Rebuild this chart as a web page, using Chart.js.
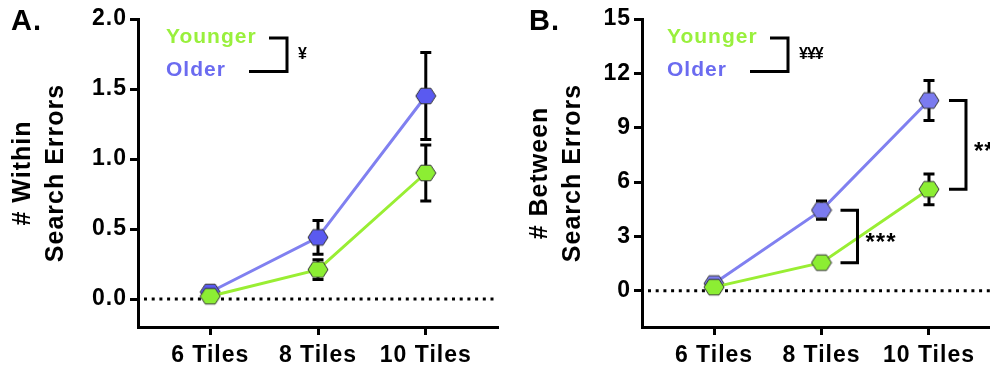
<!DOCTYPE html>
<html>
<head>
<meta charset="utf-8">
<script src="https://cdn.jsdelivr.net/npm/chart.js@4.4.1/dist/chart.umd.min.js"></script>
<style>
  html, body { margin: 0; padding: 0; background: #fff; overflow: hidden; width: 990px; height: 370px; }
  .panel { position: absolute; top: 0; }
  #panelA { left: 0; width: 500px; height: 370px; }
  #panelB { left: 495px; width: 520px; height: 370px; }
</style>
</head>
<body>
<div class="panel" id="panelA"><canvas id="chartA" width="500" height="370"></canvas></div>
<div class="panel" id="panelB"><canvas id="chartB" width="520" height="370"></canvas></div>
<script>
// categories and values
const categories = ['6 Tiles', '8 Tiles', '10 Tiles'];
const groups = ['Younger', 'Older'];

const withinYounger = [0.02, 0.21, 0.90];
const withinYoungerSem = [0.02, 0.07, 0.20];
const withinOlder = [0.05, 0.44, 1.45];
const withinOlderSem = [0.03, 0.12, 0.31];
const withinTicks = [0, 0.5, 1.0, 1.5, 2.0];

const betweenYounger = [0.2, 1.55, 5.6];
const betweenYoungerSem = [0.15, 0.2, 0.85];
const betweenOlder = [0.4, 4.45, 10.5];
const betweenOlderSem = [0.2, 0.5, 1.1];
const betweenTicks = [0, 3, 6, 9, 12, 15];

const GREEN_LINE = '#99ee33';
const GREEN_FILL = '#8cee33';
const GREEN_TEXT = '#99f03c';
const BLUE_LINE = '#8080f0';
const BLUE_TEXT = '#6b6bf0';
const FONT = '"Liberation Sans", Arial, sans-serif';

function hexagon(fill) {
  const c = document.createElement('canvas');
  c.width = 22; c.height = 20;
  const g = c.getContext('2d');
  const r = 10;
  g.beginPath();
  for (let i = 0; i < 6; i++) {
    const a = Math.PI / 3 * i;
    const x = 11 + r * Math.cos(a), y = 10 + r * Math.sin(a) * 0.9;
    i ? g.lineTo(x, y) : g.moveTo(x, y);
  }
  g.closePath();
  g.fillStyle = fill;
  g.fill();
  g.lineWidth = 1;
  g.strokeStyle = '#333';
  g.stroke();
  return c;
}

// error bars, zero line, legend + significance marks
const extras = {
  id: 'extras',
  beforeDraw(chart) {
    chart.ctx.letterSpacing = '1px';
  },
  beforeDatasetsDraw(chart) {
    const { ctx, chartArea } = chart;
    const x = chart.scales.x, y = chart.scales.y;
    ctx.save();
    // dotted zero line
    ctx.strokeStyle = '#000';
    ctx.lineWidth = 3;
    ctx.setLineDash([3, 4.7]);
    ctx.beginPath();
    ctx.moveTo(chartArea.left + 6, y.getPixelForValue(0));
    ctx.lineTo(chartArea.right, y.getPixelForValue(0));
    ctx.stroke();
    ctx.setLineDash([]);
    // error bars
    chart.data.datasets.forEach(ds => {
      ds.data.forEach((p, i) => {
        const px = x.getPixelForValue(p.x);
        const top = y.getPixelForValue(p.y + ds.sem[i]);
        const bot = y.getPixelForValue(p.y - ds.sem[i]);
        ctx.beginPath();
        ctx.moveTo(px, top); ctx.lineTo(px, bot);
        ctx.moveTo(px - 5.5, top); ctx.lineTo(px + 5.5, top);
        ctx.moveTo(px - 5.5, bot); ctx.lineTo(px + 5.5, bot);
        ctx.stroke();
      });
    });
    ctx.restore();
  },
  afterDraw(chart) {
    const opts = chart.$extras;
    if (!opts) return;
    const { ctx } = chart;
    const x = chart.scales.x, y = chart.scales.y;
    ctx.save();
    ctx.letterSpacing = '1px';
    ctx.textBaseline = 'alphabetic';
    ctx.textAlign = 'left';
    // panel letter
    ctx.fillStyle = '#000';
    ctx.font = 'bold 29px ' + FONT;
    ctx.fillText(opts.letter, opts.letterX, 30);
    // legend
    ctx.font = 'bold 21px ' + FONT;
    ctx.fillStyle = GREEN_TEXT;
    ctx.fillText(groups[0], opts.legendX, 43);
    ctx.fillStyle = BLUE_TEXT;
    ctx.fillText(groups[1], opts.legendX, 76);
    ctx.strokeStyle = '#000';
    ctx.lineWidth = 3;
    const bx = opts.legendX + 121;
    ctx.beginPath();
    ctx.moveTo(bx - 18, 38); ctx.lineTo(bx, 38); ctx.lineTo(bx, 71.5); ctx.lineTo(bx - 38, 71.5);
    ctx.stroke();
    ctx.fillStyle = '#000';
    ctx.letterSpacing = opts.markSpacing;
    ctx.font = 'bold 16px ' + FONT;
    ctx.fillText(opts.groupMark, bx + 11, 59);
    // per-category brackets
    ctx.letterSpacing = '1px';
    ctx.font = 'bold 24px ' + FONT;
    (opts.brackets || []).forEach(b => {
      const px = x.getPixelForValue(b.index);
      const y1 = y.getPixelForValue(b.hi), y2 = y.getPixelForValue(b.lo);
      ctx.beginPath();
      ctx.moveTo(px + b.dx, y1); ctx.lineTo(px + b.dx + 17, y1);
      ctx.lineTo(px + b.dx + 17, y2); ctx.lineTo(px + b.dx, y2);
      ctx.stroke();
      ctx.fillText(b.text, px + b.dx + 25, (y1 + y2) / 2 + 14);
    });
    ctx.restore();
  }
};

function makeChart(id, cfg) {
  const tickFont = { family: FONT, size: 23, weight: 'bold' };
  const chart = new Chart(document.getElementById(id), {
    type: 'line',
    data: {
      datasets: [
        {
          label: groups[0],
          data: cfg.younger.map((v, i) => ({ x: i, y: v })),
          sem: cfg.youngerSem,
          borderColor: GREEN_LINE, borderWidth: 3,
          pointStyle: hexagon(GREEN_FILL), pointRadius: 10
        },
        {
          label: groups[1],
          data: cfg.older.map((v, i) => ({ x: i, y: v })),
          sem: cfg.olderSem,
          borderColor: BLUE_LINE, borderWidth: 3,
          pointStyle: hexagon(cfg.olderFill), pointRadius: 10
        }
      ]
    },
    options: {
      responsive: false,
      animation: false,
      layout: { autoPadding: false, padding: { top: 19, right: cfg.padRight, bottom: 0, left: 0 } },
      plugins: {
        legend: { display: false },
        tooltip: { enabled: false }
      },
      scales: {
        x: {
          type: 'linear', min: -0.67, max: 2.67,
          afterBuildTicks: s => { s.ticks = categories.map((c, i) => ({ value: i })); },
          afterFit: s => { s.height = 43; s.paddingLeft = 0; s.paddingRight = 0; },
          ticks: { color: '#000', font: tickFont, padding: 7, maxRotation: 0,
                   callback: v => categories[v] },
          grid: { drawOnChartArea: false, tickLength: 8, tickWidth: 3, color: '#000' },
          border: { color: '#000', width: 3 }
        },
        y: {
          min: cfg.yMin, max: cfg.yMax,
          afterBuildTicks: s => { s.ticks = cfg.ticks.map(v => ({ value: v })); },
          afterFit: s => { s.width = cfg.yWidth; },
          ticks: { color: '#000', font: tickFont, padding: 3,
                   callback: cfg.fmt },
          grid: { drawOnChartArea: false, tickLength: 8, tickWidth: 3, color: '#000' },
          border: { color: '#000', width: 3 },
          title: {
            display: true, text: cfg.title, color: '#000',
            font: { family: FONT, size: 25, weight: 'bold', lineHeight: 1.3 },
            padding: { top: cfg.titlePad, bottom: 0 }
          }
        }
      }
    },
    plugins: [extras]
  });
  chart.$extras = cfg;
  chart.draw();
  return chart;
}

makeChart('chartA', {
  younger: withinYounger, youngerSem: withinYoungerSem,
  older: withinOlder, olderSem: withinOlderSem, olderFill: '#5a5af0',
  ticks: withinTicks, yMin: -0.2, yMax: 2.0, fmt: v => v.toFixed(1),
  yWidth: 138, padRight: 2, titlePad: 7,
  title: ['# Within', 'Search Errors'],
  letter: 'A.', letterX: 11, legendX: 166, groupMark: '¥', markSpacing: '0px'
});

makeChart('chartB', {
  younger: betweenYounger, youngerSem: betweenYoungerSem,
  older: betweenOlder, olderSem: betweenOlderSem, olderFill: '#7b7bef',
  ticks: betweenTicks, yMin: -2, yMax: 15, fmt: v => String(v),
  yWidth: 147, padRight: 14, titlePad: 29,
  title: ['# Between', 'Search Errors'],
  letter: 'B.', letterX: 34, legendX: 172, groupMark: '¥¥¥', markSpacing: '-1px',
  brackets: [
    { index: 1, hi: betweenOlder[1], lo: betweenYounger[1], dx: 19, text: '***' },
    { index: 2, hi: betweenOlder[2], lo: betweenYounger[2], dx: 20, text: '**' }
  ]
});
</script>
</body>
</html>
